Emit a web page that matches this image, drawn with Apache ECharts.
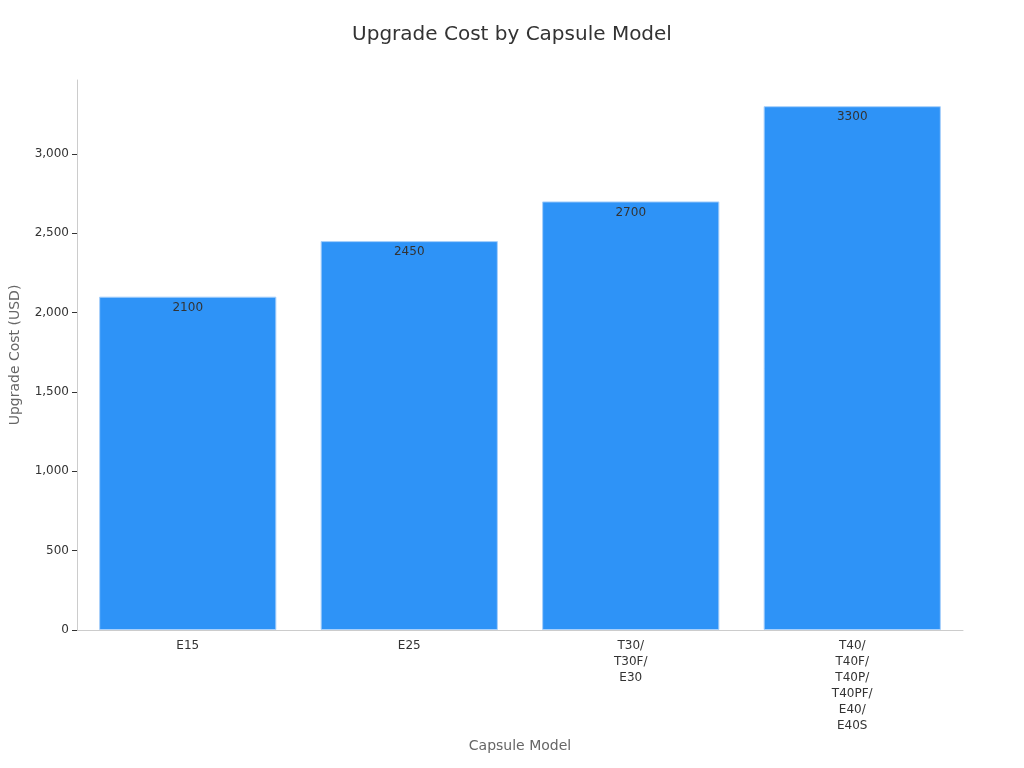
<!DOCTYPE html>
<html><head><meta charset="utf-8">
<script src="https://cdn.jsdelivr.net/npm/echarts@6/dist/echarts.min.js"></script>
<style>html,body{margin:0;padding:0;background:#fff}#c{width:1024px;height:768px}</style>
</head><body><div id="c"></div>
<script>
const categories = ['E15', 'E25', 'T30/\nT30F/\nE30', 'T40/\nT40F/\nT40P/\nT40PF/\nE40/\nE40S'];
const costs = [2100, 2450, 2700, 3300];
const chart = echarts.init(document.getElementById('c'));
chart.setOption({
  animation: false,
  textStyle: { fontFamily: 'DejaVu Sans' },
  title: { text: 'Upgrade Cost by Capsule Model', left: 'center', top: 20,
    textStyle: { fontSize: 20, fontWeight: 'normal', color: '#333' } },
  grid: { left: 76, right: 61, top: 80, bottom: 138 },
  xAxis: { type: 'category', data: categories, name: 'Capsule Model', nameLocation: 'middle', nameGap: 100,
    nameTextStyle: { fontSize: 14, color: '#666' },
    axisLine: { lineStyle: { color: '#ccc' } }, axisTick: { show: false },
    axisLabel: { color: '#333', fontSize: 12, lineHeight: 16, interval: 0 } },
  yAxis: { type: 'value', min: 0, max: 3465, interval: 500, name: 'Upgrade Cost (USD)', nameLocation: 'middle', nameGap: 55,
    nameTextStyle: { fontSize: 14, color: '#666' },
    axisLine: { show: true, lineStyle: { color: '#ccc' } }, axisTick: { show: true, lineStyle: { color: '#333' } },
    splitLine: { show: false },
    axisLabel: { color: '#333', fontSize: 12, showMaxLabel: false } },
  series: [{ type: 'bar', data: costs, barWidth: '80%',
    itemStyle: { color: '#2e93f7', borderColor: '#a8d0fb', borderWidth: 1 },
    label: { show: true, position: 'insideTop', color: '#333', fontSize: 12 } }]
});
</script></body></html>
